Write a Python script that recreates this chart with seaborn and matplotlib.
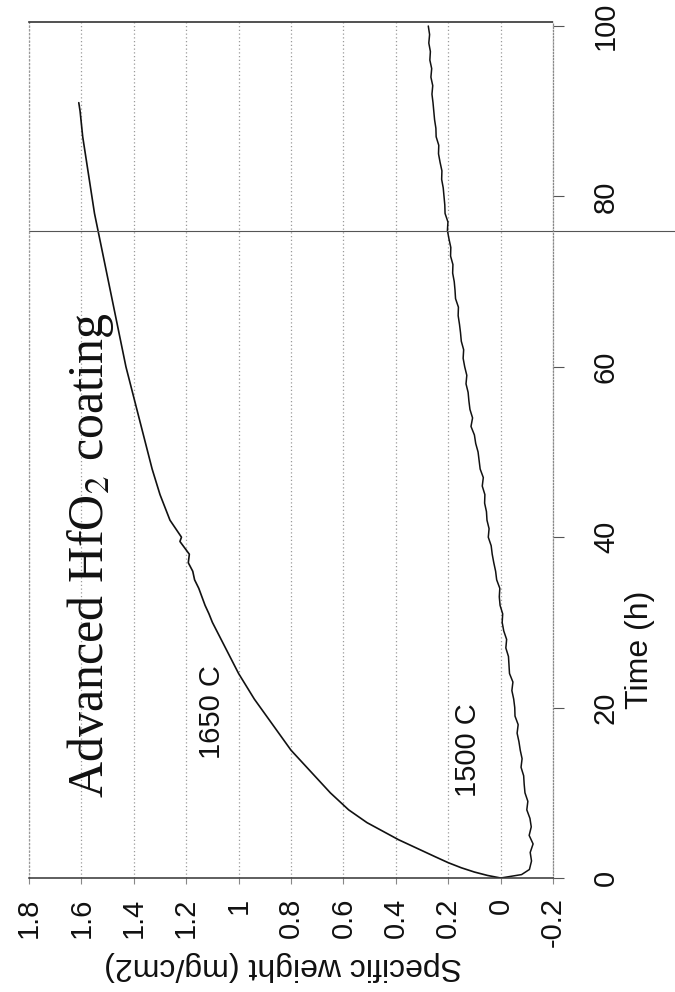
import matplotlib
matplotlib.use("Agg")
import matplotlib.pyplot as plt
import seaborn as sns
import pandas as pd

# ---- data ----
t1650 = [0, 0.3, 0.7, 1.2, 1.8, 2.5, 3.5, 4.5, 5.5, 6.5, 8, 10, 12, 15, 18, 21, 24, 27, 30,
         31, 32, 33, 34, 35, 36, 37, 38, 39, 39.5, 40, 41, 42, 45, 48, 51, 54, 57, 60, 63,
         66, 69, 72, 75, 78, 81, 84, 87, 90, 91]
w1650 = [0.0, 0.05, 0.10, 0.15, 0.20, 0.25, 0.32, 0.39, 0.45, 0.51, 0.58, 0.65, 0.71, 0.80,
         0.87, 0.94, 1.00, 1.05, 1.10, 1.113, 1.128, 1.140, 1.152, 1.168, 1.175, 1.192, 1.188,
         1.212, 1.224, 1.218, 1.240, 1.262, 1.300, 1.330, 1.355, 1.380, 1.405, 1.430, 1.450,
         1.470, 1.490, 1.510, 1.530, 1.550, 1.565, 1.580, 1.595, 1.605, 1.610]

t1500 = [0, 0.4, 1, 2, 3, 4, 5, 6, 7, 8, 9, 10, 11, 12, 13, 14, 15, 16, 17, 18, 19, 20,
         21, 22, 23, 24, 25, 26, 27, 28, 29, 30, 31, 32, 33, 34, 35, 36, 37, 38, 39, 40,
         41, 42, 43, 44, 45, 46, 47, 48, 49, 50, 51, 52, 53, 54, 55, 56, 57, 58, 59, 60,
         61, 62, 63, 64, 65, 66, 67, 68, 69, 70, 71, 72, 73, 74, 75, 76, 77, 78, 79, 80,
         81, 82, 83, 84, 85, 86, 87, 88, 89, 90, 91, 92, 93, 94, 95, 96, 97, 98, 99, 100]
w1500 = [0.000, -0.080, -0.110, -0.118, -0.113, -0.124, -0.109, -0.117, -0.112, -0.100,
         -0.104, -0.093, -0.090, -0.088, -0.078, -0.082, -0.075, -0.070, -0.063, -0.067,
         -0.055, -0.054, -0.050, -0.043, -0.047, -0.034, -0.032, -0.030, -0.020, -0.023,
         -0.012, -0.006, -0.008, 0.002, 0.005, 0.003, 0.015, 0.019, 0.026, 0.032, 0.036,
         0.047, 0.044, 0.052, 0.054, 0.061, 0.060, 0.070, 0.066, 0.078, 0.082,
         0.086, 0.095, 0.100, 0.113, 0.107, 0.117, 0.121, 0.124, 0.132, 0.129,
         0.137, 0.143, 0.141, 0.150, 0.153, 0.157, 0.162, 0.161, 0.172, 0.174,
         0.177, 0.183, 0.182, 0.191, 0.190, 0.197, 0.203, 0.201, 0.212, 0.213,
         0.216, 0.219, 0.225, 0.224, 0.231, 0.237, 0.236, 0.246, 0.247, 0.252,
         0.255, 0.258, 0.262, 0.259, 0.266, 0.263, 0.270, 0.268, 0.274, 0.271, 0.276]

weight_ticks = [1.8, 1.6, 1.4, 1.2, 1.0, 0.8, 0.6, 0.4, 0.2, 0.0, -0.2]
weight_labels = ["1.8", "1.6", "1.4", "1.2", "1", "0.8", "0.6", "0.4", "0.2", "0", "-0.2"]
time_ticks = [0, 20, 40, 60, 80, 100]
time_labels = ["0", "20", "40", "60", "80", "100"]

title_text = "Advanced HfO$_2$ coating"
series_labels = ["1650 C", "1500 C"]
xlabel_text = "Specific weight (mg/cm2)"
ylabel_text = "Time (h)"
marker_time = 75.9   # stray scan line across the page

df1650 = pd.DataFrame({"time": t1650, "weight": w1650})
df1500 = pd.DataFrame({"time": t1500, "weight": w1500})

# ---- style ----
sns.set_theme(style="white")
plt.rcParams["font.family"] = ["Liberation Sans", "DejaVu Sans"]
plt.rcParams["mathtext.fontset"] = "stix"
sans = ["Liberation Sans", "DejaVu Sans"]

fig = plt.figure(figsize=(6.75, 9.92), dpi=100)
ax = fig.add_axes([29 / 675, (992 - 878) / 992, 524 / 675, 856 / 992])

sns.lineplot(data=df1650, x="weight", y="time", orient="y", sort=True, estimator=None,
             color="#111111", lw=1.2, ax=ax)
sns.lineplot(data=df1500, x="weight", y="time", orient="y", sort=True, estimator=None,
             color="#111111", lw=1.1, ax=ax)

ax.set_xlim(1.8, -0.2)
ax.set_ylim(0, 100.47)

ax.set_xticks(weight_ticks)
ax.set_xticklabels(weight_labels, rotation=90, fontsize=21, family=sans, color="#111111")
ax.yaxis.tick_right()
ax.set_yticks(time_ticks)
ax.set_yticklabels(time_labels, rotation=90, va="center", fontsize=21, family=sans,
                   color="#111111")
ax.tick_params(axis="x", bottom=True, length=4, width=0.8, color="#888888", pad=10)
ax.tick_params(axis="y", right=True, left=False, length=8, width=0.8, color="#555555",
               direction="out", pad=20)

ax.grid(axis="x", color="#9a9a9a", linestyle=(0, (1, 2)), lw=0.9)
ax.grid(axis="y", visible=False)

for side, st in ax.spines.items():
    st.set_visible(True)
ax.spines["bottom"].set_color("#333333")
ax.spines["bottom"].set_linewidth(1.1)
ax.spines["top"].set_color("#333333")
ax.spines["top"].set_linestyle((0, (2, 1)))
ax.spines["top"].set_linewidth(1.2)
ax.spines["left"].set_color("#999999")
ax.spines["left"].set_linestyle((0, (1, 2)))
ax.spines["left"].set_linewidth(0.9)
ax.spines["right"].set_color("#888888")
ax.spines["right"].set_linestyle((0, (1, 1.5)))
ax.spines["right"].set_linewidth(0.9)

ax.set_xlabel(xlabel_text, rotation=180, fontsize=23, va="center", ha="center",
              color="#111111")
ax.xaxis.set_label_coords(0.485, -0.103)
ax.yaxis.set_label_position("right")
ax.set_ylabel(ylabel_text, rotation=90, fontsize=23, va="center", ha="center",
              color="#111111")
ax.yaxis.set_label_coords(1.166, 0.266)

ax.text(1.567, 37.9, title_text, rotation=90, ha="center", va="center", fontsize=36,
        family=["Liberation Serif", "DejaVu Serif"], color="#111111")
ax.text(1.10, 19.5, series_labels[0], rotation=90, ha="center", va="center", fontsize=21,
        family=sans, color="#111111")
ax.text(0.126, 15.0, series_labels[1], rotation=90, ha="center", va="center", fontsize=21,
        family=sans, color="#111111")

ax.axhline(marker_time, xmin=0, xmax=1.233, color="#555555", lw=0.8, clip_on=False)

fig.savefig("out.png", dpi=100, facecolor="white")
